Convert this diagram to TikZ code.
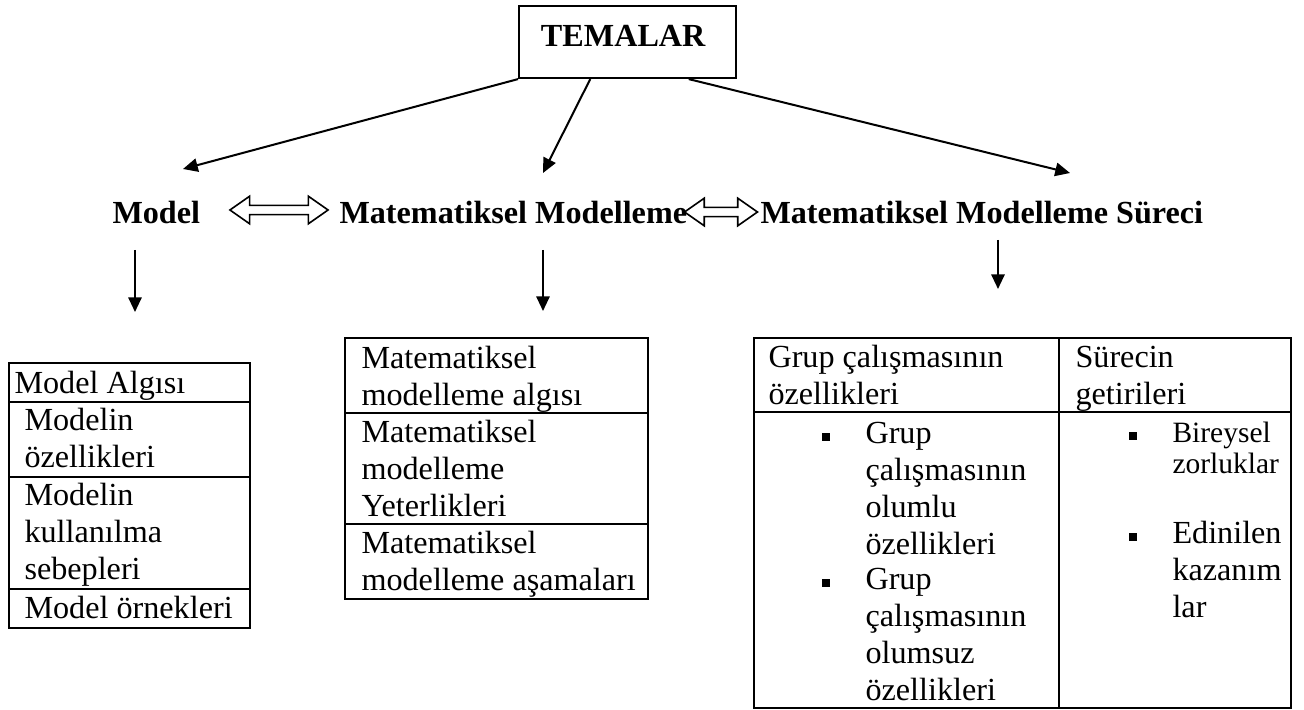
\documentclass[tikz,border=0pt]{standalone}
\usepackage{fontspec}
\setmainfont{Liberation Serif}
\usetikzlibrary{arrows.meta,shapes.arrows,calc}
\tikzset{
  cell/.style={anchor=north west, inner sep=0pt, align=left, font=\fontsize{12}{13.8}\selectfont},
  smallcell/.style={cell, font=\fontsize{11}{11.6}\selectfont},
  heading/.style={anchor=base west, inner sep=0pt, font=\bfseries\fontsize{12}{13.8}\selectfont},
  link/.style={-{Triangle[length=5.5pt,width=5pt]}, line width=0.75pt},
  tabline/.style={line width=0.75pt},
  twoway/.style={double arrow, draw, line width=0.6pt, inner sep=0pt, minimum width=10.3pt,
    double arrow head extend=0.6pt, double arrow tip angle=70},
  sqbullet/.style={rectangle, fill, inner sep=0pt, minimum size=2.8pt}
}
\begin{document}
\begin{tikzpicture}[x=0.373pt, y=-0.373pt]
    \useasboundingbox (0,0) rectangle (1304,710);
    % top
    \node [heading, draw, line width=0.75pt, inner ysep=0pt, text height=15.3pt, text depth=11.6pt,
           text width=80.9pt, align=left] (tema) at (518,47) {\hspace*{8.2pt}TEMALAR};
    \node [heading] (model) at (112,224) {Model};
    \node [heading] (mm) at (339,224) {Matematiksel Modelleme};
    \node [heading] (mms) at (760,224) {Matematiksel Modelleme Süreci};
    \node [twoway, minimum height=36.6pt] (ar1) at (279,210) {};
    \node [twoway, minimum height=27.2pt] (ar2) at (721,212) {};
    % arrow ends
    \coordinate (tmodel) at (183,169);
    \coordinate (tmm) at (543,173);
    \coordinate (tmms) at (1070,173);
    \draw [link] (tema.south west) -- (tmodel);
    \draw [link] ($(tema.south west)!0.33!(tema.south east)$) -- (tmm);
    \draw [link] ($(tema.south west)!0.78!(tema.south east)$) -- (tmms);
    \coordinate (dmodel) at (135,250);  \coordinate (emodel) at (135,312);
    \coordinate (dmm) at (543,250);     \coordinate (emm) at (543,311);
    \coordinate (dmms) at (998,240);    \coordinate (emms) at (998,289);
    \draw [link] (dmodel) -- (emodel);
    \draw [link] (dmm) -- (emm);
    \draw [link] (dmms) -- (emms);
    % left table
    \draw [tabline] (9,363) rectangle (250,628);
    \draw [tabline] (9,402) -- (250,402) (9,477) -- (250,477) (9,589) -- (250,589);
    \node [cell] (ma) at (14,367) {\strut Model Algısı};
    \node [cell] (mo) at (24,404) {\strut Modelin\\özellikleri};
    \node [cell] (mk) at (24,479) {\strut Modelin\\kullanılma\\sebepleri};
    \node [cell] (me) at (24,592) {\strut Model örnekleri};
    % middle table
    \draw [tabline] (345,338) rectangle (648,599);
    \draw [tabline] (345,413) -- (648,413) (345,524) -- (648,524);
    \node [cell] (mma) at (361,342) {\strut Matematiksel\\modelleme algısı};
    \node [cell] (mmy) at (361,416) {\strut Matematiksel\\modelleme\\Yeterlikleri};
    \node [cell] (mmas) at (361,527) {\strut Matematiksel\\modelleme aşamaları};
    % right table
    \draw [tabline] (754,338) rectangle (1291,708);
    \draw [tabline] (754,412) -- (1291,412) (1059,338) -- (1059,708);
    \node [cell] (go) at (768,341) {\strut Grup çalışmasının\\özellikleri};
    \node [cell] (sg) at (1075,341) {\strut Sürecin\\getirileri};
    \node [sqbullet] (b1) at (826,437) {};
    \node [cell] (gol) at (865,417) {\strut Grup\\çalışmasının\\olumlu\\özellikleri};
    \node [sqbullet] (b2) at (826,583) {};
    \node [cell] (gos) at (865,563) {\strut Grup\\çalışmasının\\olumsuz\\özellikleri};
    \node [sqbullet] (b3) at (1133,436) {};
    \node [smallcell] (bz) at (1172,420) {\strut Bireysel\\zorluklar};
    \node [sqbullet] (b4) at (1133,537) {};
    \node [cell] (ek) at (1172,517) {\strut Edinilen\\kazanım\\lar};
\end{tikzpicture}
\end{document}
